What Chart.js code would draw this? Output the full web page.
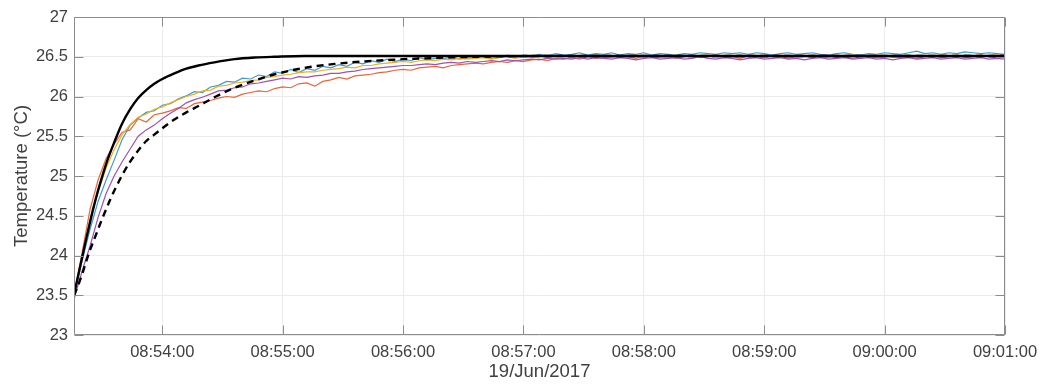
<!DOCTYPE html>
<html><head><meta charset="utf-8">
<script src="https://cdn.jsdelivr.net/npm/chart.js@4.4.0/dist/chart.umd.min.js"></script>
<style>html,body{margin:0;padding:0;background:#fff;}#wrap{width:1047px;height:388px;}</style>
</head><body><div id="wrap"><canvas id="c" width="1047" height="388"></canvas></div>
<script>
// time in seconds after 08:53:16 on 19/Jun/2017
const sampleTimes = [0,4,8,12,16,20,24,28,32,36,40,44,48,52,56,60,64,68,72,76,80,84,88,92,96,100,104,108,112,116,120,124,128,132,136,140,144,148,152,156,160,164,168,172,176,180,184,188,192,196,200,204,208,212,216,220,224,228,232,236,240,244,248,252,256,260,264,268,272,276,280,284,288,292,296,300,304,308,312,316,320,324,328,332,336,340,344,348,352,356,360,364,368,372,376,380,384,388,392,396,400,404,408,412,416,420,424,428,432,436,440,444,448,452,456,460,464];

const sensorBlue = [23.50,23.93,24.33,24.68,24.95,25.20,25.46,25.64,25.73,25.80,
25.82,25.89,25.91,25.97,26.01,26.06,26.05,26.12,26.14,26.19,
26.18,26.23,26.22,26.27,26.25,26.31,26.29,26.34,26.30,26.35,
26.33,26.38,26.36,26.40,26.38,26.43,26.41,26.45,26.43,26.47,
26.44,26.47,26.45,26.49,26.46,26.48,26.47,26.50,26.47,26.49,
26.48,26.51,26.48,26.50,26.52,26.49,26.52,26.50,26.53,26.51,
26.54,26.52,26.53,26.55,26.52,26.54,26.53,26.55,26.52,26.54,
26.53,26.55,26.52,26.54,26.53,26.52,26.54,26.53,26.55,26.54,
26.53,26.55,26.54,26.55,26.53,26.55,26.54,26.52,26.54,26.55,
26.53,26.54,26.55,26.53,26.52,26.54,26.55,26.53,26.52,26.54,
26.53,26.55,26.54,26.53,26.55,26.57,26.54,26.55,26.53,26.55,
26.54,26.56,26.55,26.54,26.55,26.54,26.53];

const sensorOrange = [23.50,24.03,24.58,24.95,25.22,25.40,25.55,25.58,25.72,25.68,
25.77,25.79,25.82,25.86,25.85,25.91,25.93,25.95,25.98,26.00,
25.99,26.03,26.05,26.07,26.06,26.10,26.12,26.11,26.16,26.17,
26.13,26.19,26.21,26.24,26.22,26.26,26.27,26.28,26.30,26.31,
26.33,26.34,26.33,26.36,26.37,26.38,26.36,26.39,26.40,26.41,
26.42,26.41,26.43,26.44,26.43,26.45,26.44,26.46,26.47,26.45,
26.48,26.47,26.49,26.47,26.50,26.48,26.49,26.51,26.49,26.50,
26.48,26.51,26.50,26.49,26.51,26.48,26.50,26.51,26.49,26.50,
26.52,26.49,26.50,26.48,26.51,26.50,26.49,26.51,26.50,26.48,
26.50,26.51,26.49,26.50,26.52,26.49,26.50,26.48,26.50,26.51,
26.49,26.50,26.51,26.49,26.50,26.48,26.50,26.51,26.49,26.50,
26.51,26.49,26.50,26.52,26.50,26.49,26.50];

const sensorYellow = [23.50,23.99,24.44,24.80,25.10,25.33,25.52,25.65,25.74,25.78,
25.84,25.87,25.92,25.96,26.00,26.03,26.07,26.08,26.13,26.14,
26.17,26.18,26.20,26.21,26.24,26.25,26.27,26.28,26.30,26.31,
26.31,26.33,26.34,26.35,26.37,26.36,26.39,26.39,26.41,26.42,
26.43,26.44,26.43,26.45,26.46,26.45,26.47,26.46,26.48,26.47,
26.48,26.49,26.47,26.49,26.50,26.48,26.50,26.49,26.51,26.49,
26.50,26.51,26.49,26.51,26.50,26.52,26.50,26.49,26.51,26.50,
26.52,26.50,26.51,26.49,26.51,26.52,26.50,26.51,26.50,26.52,
26.51,26.49,26.51,26.52,26.50,26.51,26.49,26.51,26.52,26.50,
26.51,26.50,26.52,26.51,26.49,26.51,26.50,26.52,26.51,26.50,
26.52,26.51,26.49,26.51,26.52,26.50,26.51,26.50,26.52,26.51,
26.50,26.52,26.51,26.50,26.51,26.52,26.51];

const sensorPurple = [23.45,23.80,24.12,24.48,24.78,25.00,25.18,25.34,25.50,25.58,
25.64,25.72,25.79,25.85,25.92,25.96,25.99,26.03,26.07,26.08,
26.11,26.12,26.16,26.17,26.19,26.21,26.23,26.22,26.25,26.24,
26.26,26.27,26.29,26.29,26.31,26.32,26.34,26.35,26.36,26.37,
26.38,26.39,26.39,26.40,26.41,26.40,26.42,26.43,26.42,26.44,
26.43,26.44,26.45,26.44,26.46,26.45,26.46,26.47,26.46,26.48,
26.47,26.48,26.47,26.49,26.47,26.49,26.48,26.47,26.49,26.48,
26.46,26.48,26.49,26.47,26.48,26.49,26.47,26.48,26.50,26.48,
26.47,26.49,26.48,26.46,26.48,26.49,26.47,26.48,26.49,26.47,
26.48,26.46,26.48,26.49,26.47,26.48,26.49,26.47,26.48,26.49,
26.47,26.48,26.46,26.48,26.49,26.47,26.48,26.49,26.47,26.48,
26.49,26.47,26.48,26.49,26.47,26.48,26.47];

const modelTimes = [0,2,4,6,8,10,12,14,16,18,20,24,28,32,36,40,44,50,56,62,70,80,90,100,115,130,150,175,200,240,300,360,420,464];
const modelFast = [23.50,23.74,23.97,24.20,24.42,24.63,24.82,24.99,25.15,25.29,25.42,25.66,25.84,25.98,26.08,26.16,26.22,26.29,26.35,26.39,26.43,26.47,26.49,26.50,26.51,26.51,26.51,26.51,26.51,26.51,26.51,26.51,26.51,26.51];
const modelSlow = [23.50,23.62,23.76,23.92,24.07,24.20,24.33,24.46,24.58,24.70,24.81,25.01,25.18,25.32,25.44,25.52,25.60,25.71,25.80,25.88,25.99,26.11,26.20,26.28,26.36,26.41,26.45,26.48,26.50,26.51,26.51,26.51,26.51,26.51];

const xTickSeconds = [44,104,164,224,284,344,404,464];
const xTickLabels = ['08:54:00','08:55:00','08:56:00','08:57:00','08:58:00','08:59:00','09:00:00','09:01:00'];
const yTickValues = [23,23.5,24,24.5,25,25.5,26,26.5,27];
const xTitle = '19/Jun/2017';
const yTitle = 'Temperature (\u00B0C)';

const pts = (ts, vs) => ts.map((t, i) => ({x: t, y: vs[i]}));
const FONT = "'Liberation Sans', Arial, Helvetica, sans-serif";
const TXT = '#404040';

const frame = {
  id: 'frame',
  afterDatasetsDraw(chart) {
    const {ctx, chartArea: a, scales: {x, y}} = chart;
    ctx.save();
    ctx.strokeStyle = '#8c8c8c';
    ctx.lineWidth = 1;
    const L = Math.round(a.left) + 0.5, R = Math.round(a.right) - 0.5;
    const T = Math.round(a.top) + 0.5, B = Math.round(a.bottom) - 0.5;
    ctx.beginPath();
    ctx.rect(L, T, R - L, B - T);
    x.ticks.forEach(t => {
      const px = Math.round(x.getPixelForValue(t.value)) + 0.5;
      ctx.moveTo(px, B); ctx.lineTo(px, B - 9);
      ctx.moveTo(px, T); ctx.lineTo(px, T + 9);
    });
    y.ticks.forEach(t => {
      const py = Math.round(y.getPixelForValue(t.value)) + 0.5;
      ctx.moveTo(L, py); ctx.lineTo(L + 9, py);
      ctx.moveTo(R, py); ctx.lineTo(R - 9, py);
    });
    ctx.stroke();
    ctx.restore();
  }
};

const thin = 1.2;
new Chart(document.getElementById('c'), {
  type: 'line',
  data: {
    datasets: [
      {data: pts(modelTimes, modelFast), borderColor: '#000000', borderWidth: 2.4, pointRadius: 0, cubicInterpolationMode: 'monotone'},
      {data: pts(modelTimes, modelSlow), borderColor: '#000000', borderWidth: 2.4, borderDash: [7, 5], pointRadius: 0, cubicInterpolationMode: 'monotone'},
      {data: pts(sampleTimes, sensorPurple), borderColor: '#9b52b3', borderWidth: thin, pointRadius: 0},
      {data: pts(sampleTimes, sensorYellow), borderColor: '#edb120', borderWidth: thin, pointRadius: 0},
      {data: pts(sampleTimes, sensorOrange), borderColor: '#e8653a', borderWidth: thin, pointRadius: 0},
      {data: pts(sampleTimes, sensorBlue), borderColor: '#3d9ad9', borderWidth: thin, pointRadius: 0}
    ]
  },
  options: {
    responsive: false,
    animation: false,
    devicePixelRatio: 1,
    layout: {padding: {top: 17, right: 42, bottom: 0, left: 0}},
    plugins: {legend: {display: false}, tooltip: {enabled: false}},
    scales: {
      x: {
        type: 'linear', min: 0, max: 464,
        afterBuildTicks: s => { s.ticks = xTickSeconds.map(v => ({value: v})); },
        afterFit: s => { s.height = 53; },
        ticks: {
          autoSkip: false, maxRotation: 0, padding: 8, color: TXT,
          font: {family: FONT, size: 16.5},
          callback: v => xTickLabels[xTickSeconds.indexOf(v)]
        },
        grid: {color: '#ebebeb', lineWidth: 1, drawTicks: false},
        border: {display: false},
        title: {display: true, text: xTitle, color: TXT, font: {family: FONT, size: 18.5}, padding: {top: 3, bottom: 5}}
      },
      y: {
        min: 23, max: 27,
        afterBuildTicks: s => { s.ticks = yTickValues.map(v => ({value: v})); },
        afterFit: s => { s.width = 74; },
        ticks: {padding: 6, color: TXT, font: {family: FONT, size: 16.5}, callback: v => String(v)},
        grid: {color: '#ebebeb', lineWidth: 1, drawTicks: false},
        border: {display: false},
        title: {display: true, text: yTitle, color: TXT, font: {family: FONT, size: 18.5}, padding: {top: 11, bottom: 11}}
      }
    }
  },
  plugins: [frame]
});
</script>
</body></html>
